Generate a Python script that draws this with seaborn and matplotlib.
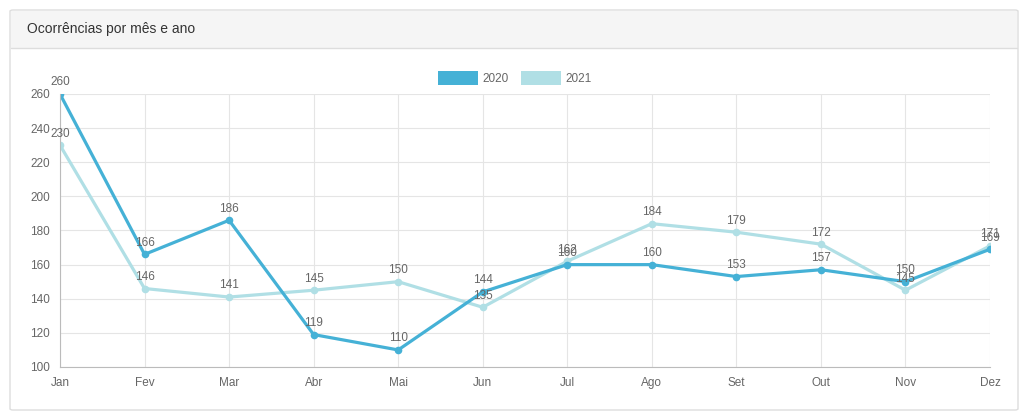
import pandas as pd
import matplotlib.pyplot as plt
import seaborn as sns
from matplotlib.patches import Rectangle, FancyBboxPatch, Patch

# data
meses = ['Jan', 'Fev', 'Mar', 'Abr', 'Mai', 'Jun', 'Jul', 'Ago', 'Set', 'Out', 'Nov', 'Dez']
v2020 = [260, 166, 186, 119, 110, 144, 160, 160, 153, 157, 150, 169]
v2021 = [230, 146, 141, 145, 150, 135, 162, 184, 179, 172, 145, 171]
anos = ['2020', '2021']
cores = {'2020': '#45b1d6', '2021': '#b0dfe5'}

df = pd.DataFrame({
    'mes': meses * 2,
    'pos': list(range(12)) * 2,
    'valor': v2020 + v2021,
    'ano': ['2020'] * 12 + ['2021'] * 12,
})

sns.set_theme(style='white')
plt.rcParams['font.family'] = ['Liberation Sans', 'DejaVu Sans']

fig = plt.figure(figsize=(10.24, 4.17), dpi=100)

# card frame + header
W, H = 1024, 417
def fx(x): return x / W
def fy(y): return 1 - y / H
card = FancyBboxPatch((fx(10), fy(410)), fx(1008), 400 / H,
                      boxstyle='round,pad=0,rounding_size=0.003',
                      transform=fig.transFigure, facecolor='white',
                      edgecolor='#dddddd', lw=1, zorder=-3)
fig.patches.append(card)
fig.patches.append(Rectangle((fx(11), fy(48)), fx(1006), 37 / H, transform=fig.transFigure,
                             facecolor='#f5f5f5', edgecolor='none', zorder=-2))
fig.lines.append(plt.Line2D([fx(11), fx(1017)], [fy(48), fy(48)], transform=fig.transFigure,
                            color='#dddddd', lw=1, zorder=-1))
fig.text(fx(27), fy(29), 'Ocorrências por mês e ano', fontsize=10, color='#333333',
         va='center', ha='left')

ax = fig.add_axes([fx(60), fy(367), fx(930), 273 / H])
ax.set_facecolor('none')
ax.set_zorder(2)

sns.lineplot(data=df, x='pos', y='valor', hue='ano', hue_order=anos[::-1], palette=cores,
             marker='o', markersize=5.5, markeredgewidth=0, linewidth=2.3,
             legend=False, ax=ax)

for ano, vals in zip(anos, [v2020, v2021]):
    for i, v in enumerate(vals):
        ax.annotate(str(v), (i, v), xytext=(0, 4), textcoords='offset points',
                    ha='center', va='bottom', fontsize=8.5, color='#666666',
                    annotation_clip=False)

ax.set_xlim(0, 11)
ax.set_ylim(100, 260)
ax.set_xticks(range(12))
ax.set_xticklabels(meses)
ax.set_yticks(range(100, 261, 20))
ax.set_xlabel('')
ax.set_ylabel('')
ax.grid(True, color='#e5e5e5', lw=0.8)
for s in ['top', 'right']:
    ax.spines[s].set_visible(False)
for s in ['left', 'bottom']:
    ax.spines[s].set_color('#bbbbbb')
    ax.spines[s].set_linewidth(0.8)
ax.tick_params(axis='both', labelsize=8.5, colors='#666666', length=5, color='#e5e5e5', pad=2)
for lab in ax.get_yticklabels() + ax.get_xticklabels():
    lab.set_color('#666666')

handles = [Patch(facecolor=cores[a], edgecolor='none', label=a) for a in anos]
leg = fig.legend(handles=handles, loc='center', bbox_to_anchor=(fx(515), fy(78)), ncol=2,
                 frameon=False, fontsize=8.5, handlelength=3.4, handleheight=1.4,
                 handletextpad=0.4, columnspacing=1.0)
for t in leg.get_texts():
    t.set_color('#666666')

fig.savefig('out.png', dpi=100)
